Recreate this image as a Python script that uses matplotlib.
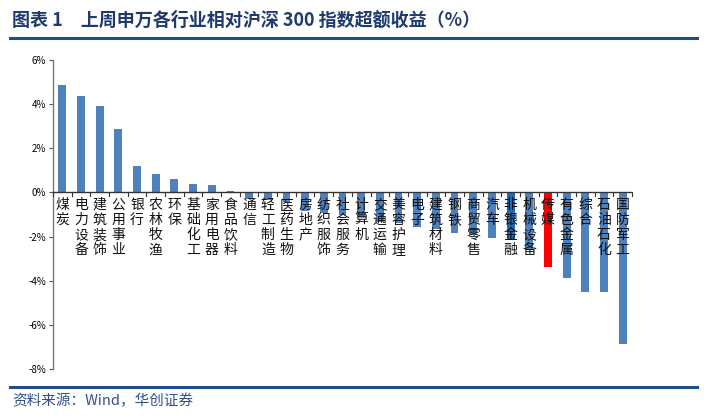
import matplotlib
matplotlib.use('Agg')

import matplotlib.pyplot as plt
from matplotlib.lines import Line2D
from matplotlib.ticker import FuncFormatter
import numpy as np

plt.rcParams['font.family'] = ['Noto Sans CJK SC', 'DejaVu Sans']

industries = ["煤炭", "电力设备", "建筑装饰", "公用事业", "银行", "农林牧渔", "环保",
              "基础化工", "家用电器", "食品饮料", "通信", "轻工制造", "医药生物", "房地产",
              "纺织服饰", "社会服务", "计算机", "交通运输", "美容护理", "电子", "建筑材料",
              "钢铁", "商贸零售", "汽车", "非银金融", "机械设备", "传媒", "有色金属",
              "综合", "石油石化", "国防军工"]
excess = [4.85, 4.35, 3.91, 2.89, 1.19, 0.82, 0.59,
          0.36, 0.32, 0.08, -0.30, -0.33, -0.42, -0.85,
          -0.95, -1.00, -1.10, -1.35, -1.40, -1.58, -1.65,
          -1.82, -1.95, -2.08, -2.15, -2.60, -3.40, -3.89,
          -4.50, -4.53, -6.85]
highlight = {"传媒": "#FF0000", "非银金融": "#1F6AB0"}

W, H = 707, 418
fig = plt.figure(figsize=(W / 100, H / 100), dpi=100)
fig.patch.set_facecolor("white")

# header / footer
fig.text(12 / W, 1 - 20 / H, "图表 1　上周申万各行业相对沪深 300 指数超额收益（%）",
         fontsize=13, fontweight='bold', color="#1F3B6E", va='center', ha='left')
fig.add_artist(Line2D([10 / W, 697 / W], [1 - 38 / H, 1 - 38 / H],
                      transform=fig.transFigure, color="#1F4E85", lw=2.2))
fig.add_artist(Line2D([10 / W, 697 / W], [1 - 387 / H, 1 - 387 / H],
                      transform=fig.transFigure, color="#1F4E85", lw=2.2))
fig.text(12 / W, 1 - 401 / H, "资料来源：Wind，华创证券", fontsize=10.5, style='italic',
         color="#34508A", va='center', ha='left')

ax = fig.add_axes([53 / W, 1 - 369 / H, (632 - 53) / W, (369 - 60) / H])
x = np.arange(len(industries))
colors = [highlight.get(n, "#4F81BD") for n in industries]
ax.bar(x, excess, width=0.42, color=colors, zorder=2)

ax.set_xlim(-0.5, len(industries) - 0.5)
ax.set_ylim(-8, 6)
ax.set_yticks(np.arange(-8, 7, 2))
ax.yaxis.set_major_formatter(FuncFormatter(lambda v, p: f"{v:.0f}%"))
ax.tick_params(axis='y', labelsize=7, length=3, direction='out', color="#555555", pad=2)

ax.set_xticks([])
for s in ["top", "right", "bottom"]:
    ax.spines[s].set_visible(False)
ax.spines["left"].set_color("#777777")
ax.spines["left"].set_linewidth(1.0)

# zero axis with category boundary ticks
ax.axhline(0, color="#333333", lw=1.0, zorder=3)
for b in np.arange(-0.5, len(industries), 1.0):
    ax.plot([b, b], [0, -0.15], color="#333333", lw=0.8, zorder=3, clip_on=False)

for i, name in enumerate(industries):
    ax.text(i, -0.25, "\n".join(name), ha='center', va='top', fontsize=10,
            linespacing=1.1, color="#111111", zorder=4)

fig.savefig("out.png", dpi=100, facecolor="white")
